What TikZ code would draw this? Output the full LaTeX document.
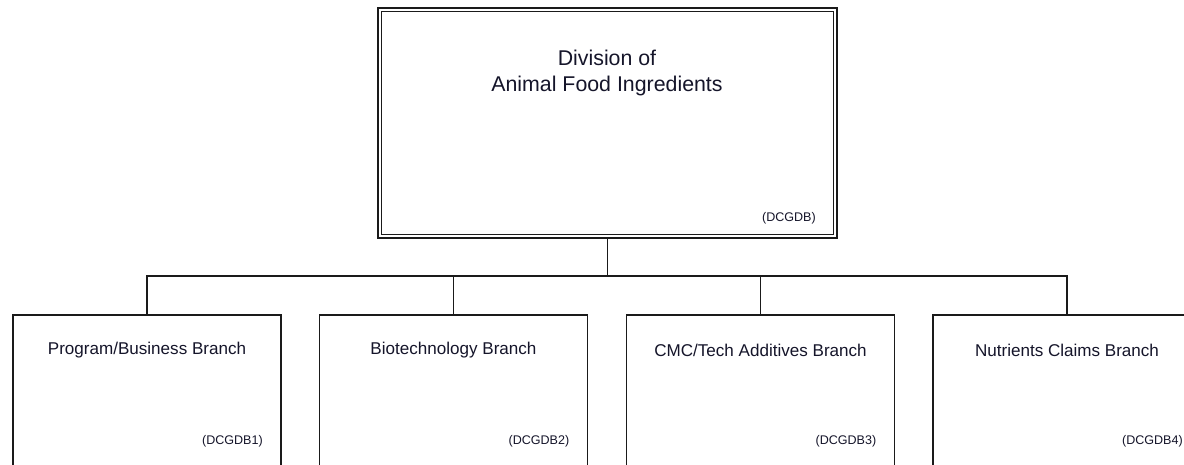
\documentclass[tikz,border=0pt]{standalone}
\usepackage{fontspec}
\setmainfont{Liberation Sans}
\definecolor{ink}{HTML}{1A1A1A}
\definecolor{txt}{HTML}{15152A}
\begin{document}
\begin{tikzpicture}[x=0.75pt,y=-0.75pt,
  topbox/.style={draw=ink, double=white, line width=1.2pt, double distance=1.4pt,
    minimum width=341.5pt, minimum height=170pt, inner sep=0pt},
  branchbox/.style={draw=ink, line width=1.4pt, minimum width=201pt, minimum height=150pt,
    anchor=north, inner sep=0pt},
  link/.style={draw=ink, line width=1.4pt},
  title/.style={text=txt, font=\fontsize{12.8}{15}\selectfont, anchor=center},
  code/.style={text=txt, font=\fontsize{9.4}{11}\selectfont, anchor=east, inner sep=0pt}]
\useasboundingbox (0,0) rectangle (1184,464);
\clip (0,0) rectangle (1184,464);
\fill[white] (0,0) rectangle (1184,464);
% top node
\node[topbox] (top) at (607.5,123) {};
\node[text=txt, align=center, font=\fontsize{16}{19.5}\selectfont] (toptitle) at (607,72.5) {Division of\\Animal Food Ingredients};
\node[code] (topcode) at (816,218) {(DCGDB)};
% branches
\node[branchbox] (b1) at (147,314) {};
\node[branchbox] (b2) at (453.5,314) {};
\node[branchbox] (b3) at (760.5,314) {};
\node[branchbox] (b4) at (1067,314) {};
\node[title] (t1) at (147,350) {Program/Business Branch};
\node[title] (t2) at (453.5,350) {Biotechnology Branch};
\node[title] (t3) at (760.5,350) {CMC/Tech Additives Branch};
\node[title] (t4) at (1067,350) {Nutrients Claims Branch};
\node[code] (c1) at (263,441) {(DCGDB1)};
\node[code] (c2) at (569.5,441) {(DCGDB2)};
\node[code] (c3) at (876.5,441) {(DCGDB3)};
\node[code] (c4) at (1183,441) {(DCGDB4)};
% connectors
\coordinate (bus) at (607.5,276);
\draw[link] (top.south) -- (bus);
\draw[link] (b1.north) |- (bus) -| (b4.north);
\draw[link] (b2.north) -- (b2.north |- bus);
\draw[link] (b3.north) -- (b3.north |- bus);
\end{tikzpicture}
\end{document}
